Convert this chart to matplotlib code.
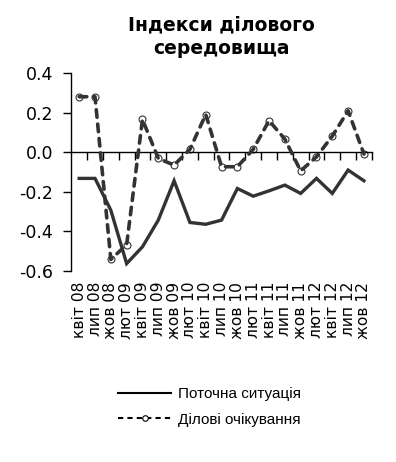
import matplotlib
matplotlib.use("Agg")
import matplotlib.pyplot as plt
from matplotlib.lines import Line2D

# Індекси ділового середовища
months = ["квіт 08", "лип 08", "жов 08", "лют 09", "квіт 09", "лип 09", "жов 09",
          "лют 10", "квіт 10", "лип 10", "жов 10", "лют 11", "квіт 11", "лип 11",
          "жов 11", "лют 12", "квіт 12", "лип 12", "жов 12"]
current = [-0.133, -0.133, -0.294, -0.564, -0.479, -0.344, -0.145, -0.356, -0.365,
           -0.344, -0.184, -0.223, -0.196, -0.167, -0.209, -0.133, -0.209, -0.091, -0.145]
expect = [0.28, 0.28, -0.543, -0.468, 0.165, -0.032, -0.066, 0.014, 0.19, -0.074,
          -0.074, 0.014, 0.159, 0.066, -0.095, -0.024, 0.081, 0.209, -0.01]

col = "#333333"
x = list(range(len(months)))

fig = plt.figure(figsize=(3.96, 4.62), dpi=100)
ax = fig.add_axes([0.18, 0.414, 0.759, 0.428])

ax.plot(x, current, color=col, lw=2.4, solid_joinstyle="miter")
# markers first, dashed line drawn over them
ax.plot(x, expect, ls="none", marker="o", ms=5, mfc="white", mec=col, mew=0.8, zorder=2)
ax.plot(x, expect, color=col, lw=2.6, dashes=(2.1, 1.9), dash_capstyle="round", zorder=3)

ax.set_xlim(-0.5, len(months) - 0.5)
ax.set_ylim(-0.6, 0.4)
ax.set_yticks([-0.6, -0.4, -0.2, 0.0, 0.2, 0.4])
ax.set_yticklabels(["-0.6", "-0.4", "-0.2", "0.0", "0.2", "0.4"], fontsize=12.5,
                   family="DejaVu Sans")
ax.tick_params(axis="y", direction="out", length=6, width=1, color="black", pad=7)

for s in ["top", "right"]:
    ax.spines[s].set_visible(False)
ax.spines["left"].set_linewidth(1)
ax.spines["bottom"].set_position(("data", 0))
ax.spines["bottom"].set_linewidth(1)

ax.set_xticks([i + 0.5 for i in x])
ax.set_xticklabels([])
ax.tick_params(axis="x", direction="out", length=6, width=1)

sec = ax.secondary_xaxis(0)
sec.set_xticks(x)
sec.set_xticklabels(months, rotation=90, fontsize=11.2, family="DejaVu Sans")
sec.tick_params(length=0, pad=8)
sec.spines["bottom"].set_visible(False)

ax.set_title("Індекси ділового\nсередовища", fontsize=13.5, fontweight="bold",
             family="DejaVu Sans", pad=14, linespacing=1.25)

handles = [
    Line2D([], [], color="black", lw=1.5),
    Line2D([], [], color="black", lw=1.5, dashes=(2.5, 2), marker="o", ms=4,
           mfc="white", mec="black", mew=0.8),
]
leg = fig.legend(handles, ["Поточна ситуація", "Ділові очікування"],
                 loc="upper left", bbox_to_anchor=(0.298, 0.162), frameon=False,
                 prop={"family": "Liberation Sans", "size": 11}, handlelength=3.5,
                 handletextpad=0.4, labelspacing=0.75, borderaxespad=0, borderpad=0)

fig.savefig("out.png", dpi=100)
